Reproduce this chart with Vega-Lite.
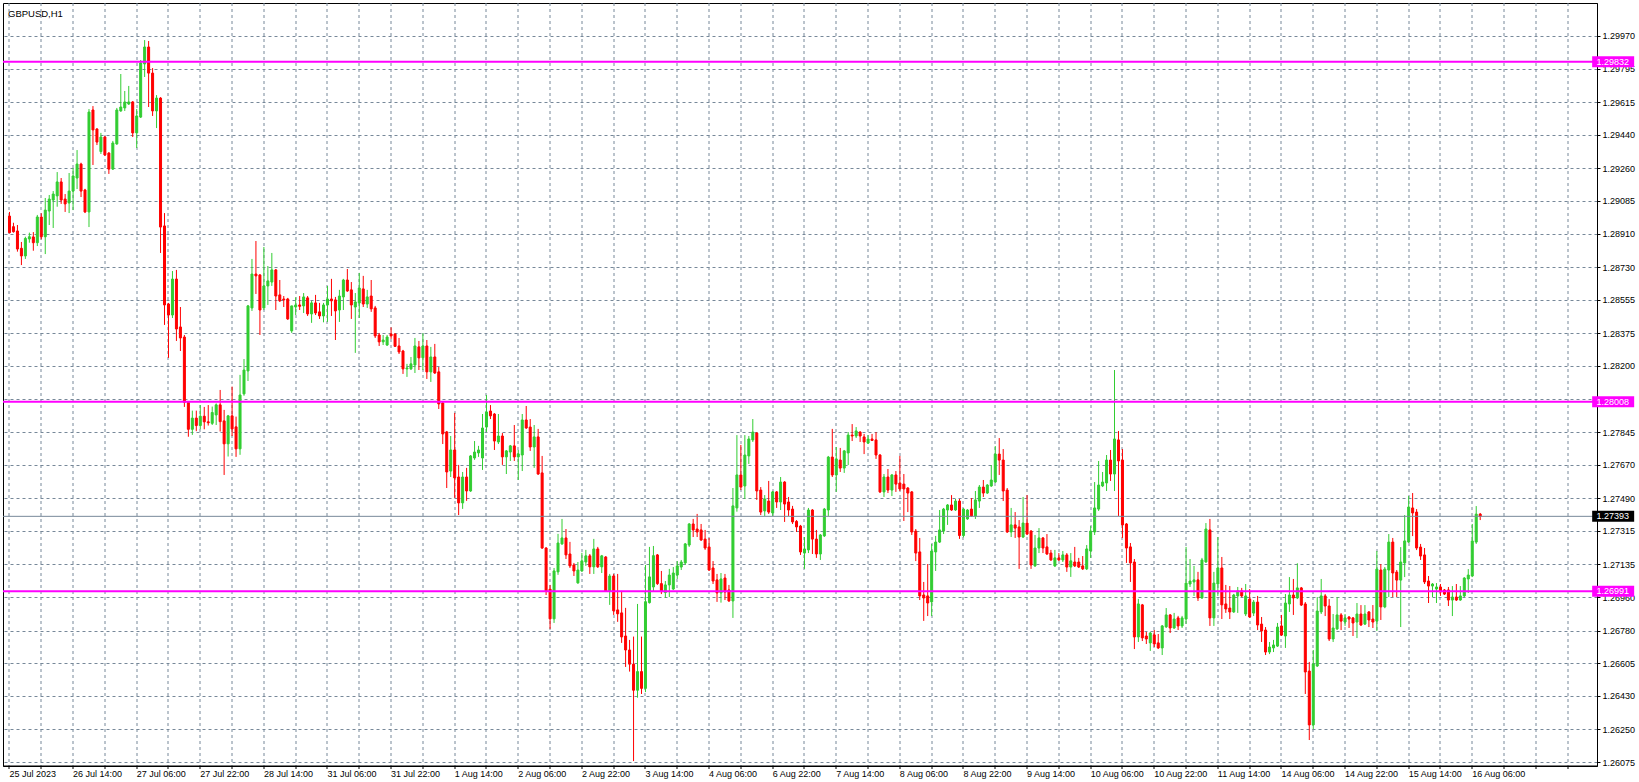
{
"$schema": "https://vega.github.io/schema/vega-lite/v6.json",
"width": 1594, "height": 763,
"autosize": {"type": "none"},
"padding": {"left": 3, "top": 3, "right": 42, "bottom": 16},
"background": "#ffffff",
"config": {"view": {"stroke": "#000000", "strokeWidth": 1}, "font": "Liberation Sans", "axis": {"labelOverlap": false}},
"title": {"text": "GBPUSD,H1", "anchor": "start", "frame": "group", "orient": "top", "offset": 0, "dx": 5, "dy": 23, "baseline": "alphabetic", "fontSize": 9.5, "fontWeight": "normal", "font": "Liberation Sans", "color": "#000000"},
"resolve": {"axis": {"x": "independent", "y": "independent"}},
"datasets": {
"candles": [
{"i":0,"o":1.29004,"h":1.29026,"l":1.28911,"c":1.28915},
{"i":1,"o":1.28947,"h":1.28968,"l":1.28915,"c":1.28920},
{"i":2,"o":1.28924,"h":1.28956,"l":1.28813,"c":1.28827},
{"i":3,"o":1.28831,"h":1.28865,"l":1.28741,"c":1.28790},
{"i":4,"o":1.28790,"h":1.28893,"l":1.28774,"c":1.28884},
{"i":5,"o":1.28881,"h":1.28915,"l":1.28861,"c":1.28893},
{"i":6,"o":1.28892,"h":1.28918,"l":1.28818,"c":1.28861},
{"i":7,"o":1.28861,"h":1.29010,"l":1.28843,"c":1.28999},
{"i":8,"o":1.28999,"h":1.29019,"l":1.28879,"c":1.28893},
{"i":9,"o":1.28893,"h":1.29101,"l":1.28800,"c":1.29036},
{"i":10,"o":1.29031,"h":1.29117,"l":1.28956,"c":1.29095},
{"i":11,"o":1.29090,"h":1.29138,"l":1.28940,"c":1.29122},
{"i":12,"o":1.29112,"h":1.29240,"l":1.29054,"c":1.29187},
{"i":13,"o":1.29187,"h":1.29208,"l":1.29069,"c":1.29090},
{"i":14,"o":1.29095,"h":1.29122,"l":1.29026,"c":1.29069},
{"i":15,"o":1.29074,"h":1.29235,"l":1.29020,"c":1.29138},
{"i":16,"o":1.29138,"h":1.29262,"l":1.29036,"c":1.29219},
{"i":17,"o":1.29208,"h":1.29358,"l":1.29149,"c":1.29283},
{"i":18,"o":1.29283,"h":1.29290,"l":1.29106,"c":1.29138},
{"i":19,"o":1.29144,"h":1.29150,"l":1.29020,"c":1.29026},
{"i":20,"o":1.29026,"h":1.29578,"l":1.28945,"c":1.29562},
{"i":21,"o":1.29573,"h":1.29594,"l":1.29278,"c":1.29466},
{"i":22,"o":1.29471,"h":1.29476,"l":1.29385,"c":1.29401},
{"i":23,"o":1.29350,"h":1.29450,"l":1.29337,"c":1.29428},
{"i":24,"o":1.29428,"h":1.29433,"l":1.29326,"c":1.29332},
{"i":25,"o":1.29342,"h":1.29347,"l":1.29230,"c":1.29256},
{"i":26,"o":1.29256,"h":1.29407,"l":1.29251,"c":1.29396},
{"i":27,"o":1.29391,"h":1.29584,"l":1.29386,"c":1.29573},
{"i":28,"o":1.29568,"h":1.29766,"l":1.29563,"c":1.29589},
{"i":29,"o":1.29584,"h":1.29675,"l":1.29568,"c":1.29616},
{"i":30,"o":1.29605,"h":1.29702,"l":1.29600,"c":1.29616},
{"i":31,"o":1.29616,"h":1.29621,"l":1.29428,"c":1.29450},
{"i":32,"o":1.29450,"h":1.29578,"l":1.29369,"c":1.29541},
{"i":33,"o":1.29535,"h":1.29841,"l":1.29530,"c":1.29825},
{"i":34,"o":1.29820,"h":1.29948,"l":1.29750,"c":1.29911},
{"i":35,"o":1.29911,"h":1.29943,"l":1.29589,"c":1.29771},
{"i":36,"o":1.29771,"h":1.29798,"l":1.29541,"c":1.29568},
{"i":37,"o":1.29568,"h":1.29653,"l":1.29476,"c":1.29637},
{"i":38,"o":1.29637,"h":1.29642,"l":1.28806,"c":1.28945},
{"i":39,"o":1.28951,"h":1.29020,"l":1.28420,"c":1.28527},
{"i":40,"o":1.28532,"h":1.28538,"l":1.28243,"c":1.28473},
{"i":41,"o":1.28473,"h":1.28709,"l":1.28457,"c":1.28666},
{"i":42,"o":1.28666,"h":1.28715,"l":1.28334,"c":1.28398},
{"i":43,"o":1.28409,"h":1.28516,"l":1.28280,"c":1.28350},
{"i":44,"o":1.28355,"h":1.28366,"l":1.27980,"c":1.28005},
{"i":45,"o":1.28005,"h":1.28010,"l":1.27820,"c":1.27860},
{"i":46,"o":1.27860,"h":1.27960,"l":1.27830,"c":1.27920},
{"i":47,"o":1.27920,"h":1.27960,"l":1.27850,"c":1.27880},
{"i":48,"o":1.27880,"h":1.27990,"l":1.27860,"c":1.27930},
{"i":49,"o":1.27930,"h":1.27980,"l":1.27860,"c":1.27900},
{"i":50,"o":1.27900,"h":1.27990,"l":1.27880,"c":1.27895},
{"i":51,"o":1.27892,"h":1.27982,"l":1.27883,"c":1.27950},
{"i":52,"o":1.27937,"h":1.27999,"l":1.27883,"c":1.27991},
{"i":53,"o":1.27991,"h":1.28071,"l":1.27848,"c":1.27901},
{"i":54,"o":1.27905,"h":1.27964,"l":1.27615,"c":1.27782},
{"i":55,"o":1.27782,"h":1.27937,"l":1.27714,"c":1.27932},
{"i":56,"o":1.27932,"h":1.28089,"l":1.27824,"c":1.27862},
{"i":57,"o":1.27873,"h":1.27928,"l":1.27712,"c":1.27755},
{"i":58,"o":1.27755,"h":1.28152,"l":1.27723,"c":1.28044},
{"i":59,"o":1.28050,"h":1.28237,"l":1.28040,"c":1.28178},
{"i":60,"o":1.28173,"h":1.28527,"l":1.28119,"c":1.28522},
{"i":61,"o":1.28511,"h":1.28774,"l":1.28495,"c":1.28693},
{"i":62,"o":1.28693,"h":1.28870,"l":1.28586,"c":1.28683},
{"i":63,"o":1.28688,"h":1.28693,"l":1.28366,"c":1.28500},
{"i":64,"o":1.28511,"h":1.28838,"l":1.28500,"c":1.28629},
{"i":65,"o":1.28629,"h":1.28736,"l":1.28527,"c":1.28656},
{"i":66,"o":1.28650,"h":1.28806,"l":1.28629,"c":1.28715},
{"i":67,"o":1.28715,"h":1.28720,"l":1.28500,"c":1.28575},
{"i":68,"o":1.28581,"h":1.28661,"l":1.28543,"c":1.28549},
{"i":69,"o":1.28559,"h":1.28575,"l":1.28516,"c":1.28554},
{"i":70,"o":1.28559,"h":1.28565,"l":1.28447,"c":1.28452},
{"i":71,"o":1.28388,"h":1.28522,"l":1.28377,"c":1.28522},
{"i":72,"o":1.28516,"h":1.28568,"l":1.28473,"c":1.28527},
{"i":73,"o":1.28527,"h":1.28575,"l":1.28500,"c":1.28520},
{"i":74,"o":1.28522,"h":1.28591,"l":1.28484,"c":1.28570},
{"i":75,"o":1.28565,"h":1.28575,"l":1.28468,"c":1.28479},
{"i":76,"o":1.28479,"h":1.28549,"l":1.28431,"c":1.28538},
{"i":77,"o":1.28538,"h":1.28581,"l":1.28473,"c":1.28484},
{"i":78,"o":1.28490,"h":1.28538,"l":1.28452,"c":1.28468},
{"i":79,"o":1.28468,"h":1.28538,"l":1.28434,"c":1.28527},
{"i":80,"o":1.28527,"h":1.28629,"l":1.28436,"c":1.28559},
{"i":81,"o":1.28559,"h":1.28667,"l":1.28468,"c":1.28549},
{"i":82,"o":1.28554,"h":1.28570,"l":1.28339,"c":1.28495},
{"i":83,"o":1.28500,"h":1.28608,"l":1.28436,"c":1.28575},
{"i":84,"o":1.28570,"h":1.28667,"l":1.28500,"c":1.28661},
{"i":85,"o":1.28661,"h":1.28720,"l":1.28597,"c":1.28602},
{"i":86,"o":1.28608,"h":1.28650,"l":1.28452,"c":1.28527},
{"i":87,"o":1.28516,"h":1.28591,"l":1.28270,"c":1.28543},
{"i":88,"o":1.28538,"h":1.28699,"l":1.28457,"c":1.28618},
{"i":89,"o":1.28613,"h":1.28683,"l":1.28516,"c":1.28532},
{"i":90,"o":1.28532,"h":1.28608,"l":1.28511,"c":1.28570},
{"i":91,"o":1.28575,"h":1.28661,"l":1.28490,"c":1.28506},
{"i":92,"o":1.28511,"h":1.28522,"l":1.28350,"c":1.28361},
{"i":93,"o":1.28366,"h":1.28377,"l":1.28307,"c":1.28329},
{"i":94,"o":1.28329,"h":1.28366,"l":1.28312,"c":1.28339},
{"i":95,"o":1.28312,"h":1.28366,"l":1.28307,"c":1.28355},
{"i":96,"o":1.28371,"h":1.28407,"l":1.28345,"c":1.28361},
{"i":97,"o":1.28371,"h":1.28375,"l":1.28302,"c":1.28305},
{"i":98,"o":1.28307,"h":1.28350,"l":1.28264,"c":1.28275},
{"i":99,"o":1.28280,"h":1.28286,"l":1.28157,"c":1.28184},
{"i":100,"o":1.28184,"h":1.28211,"l":1.28141,"c":1.28189},
{"i":101,"o":1.28184,"h":1.28248,"l":1.28178,"c":1.28211},
{"i":102,"o":1.28205,"h":1.28350,"l":1.28162,"c":1.28307},
{"i":103,"o":1.28302,"h":1.28334,"l":1.28178,"c":1.28243},
{"i":104,"o":1.28244,"h":1.28375,"l":1.28178,"c":1.28307},
{"i":105,"o":1.28307,"h":1.28339,"l":1.28130,"c":1.28168},
{"i":106,"o":1.28168,"h":1.28302,"l":1.28114,"c":1.28248},
{"i":107,"o":1.28248,"h":1.28318,"l":1.28157,"c":1.28162},
{"i":108,"o":1.28168,"h":1.28194,"l":1.27969,"c":1.27996},
{"i":109,"o":1.28001,"h":1.28006,"l":1.27781,"c":1.27835},
{"i":110,"o":1.27846,"h":1.27851,"l":1.27545,"c":1.27631},
{"i":111,"o":1.27636,"h":1.27824,"l":1.27604,"c":1.27749},
{"i":112,"o":1.27749,"h":1.27948,"l":1.27492,"c":1.27599},
{"i":113,"o":1.27604,"h":1.27669,"l":1.27400,"c":1.27465},
{"i":114,"o":1.27465,"h":1.27631,"l":1.27433,"c":1.27604},
{"i":115,"o":1.27604,"h":1.27653,"l":1.27476,"c":1.27529},
{"i":116,"o":1.27529,"h":1.27722,"l":1.27524,"c":1.27717},
{"i":117,"o":1.27706,"h":1.27797,"l":1.27696,"c":1.27738},
{"i":118,"o":1.27733,"h":1.27771,"l":1.27712,"c":1.27749},
{"i":119,"o":1.27706,"h":1.27942,"l":1.27642,"c":1.27867},
{"i":120,"o":1.27872,"h":1.28044,"l":1.27846,"c":1.27953},
{"i":121,"o":1.27958,"h":1.27990,"l":1.27915,"c":1.27932},
{"i":122,"o":1.27942,"h":1.27947,"l":1.27749,"c":1.27797},
{"i":123,"o":1.27792,"h":1.27942,"l":1.27781,"c":1.27824},
{"i":124,"o":1.27824,"h":1.27840,"l":1.27669,"c":1.27712},
{"i":125,"o":1.27712,"h":1.27749,"l":1.27620,"c":1.27744},
{"i":126,"o":1.27738,"h":1.27776,"l":1.27690,"c":1.27771},
{"i":127,"o":1.27771,"h":1.27883,"l":1.27690,"c":1.27712},
{"i":128,"o":1.27712,"h":1.27749,"l":1.27588,"c":1.27728},
{"i":129,"o":1.27722,"h":1.27942,"l":1.27636,"c":1.27910},
{"i":130,"o":1.27910,"h":1.27985,"l":1.27862,"c":1.27867},
{"i":131,"o":1.27872,"h":1.27915,"l":1.27744,"c":1.27765},
{"i":132,"o":1.27765,"h":1.27883,"l":1.27653,"c":1.27819},
{"i":133,"o":1.27819,"h":1.27862,"l":1.27615,"c":1.27620},
{"i":134,"o":1.27626,"h":1.27717,"l":1.27218,"c":1.27223},
{"i":135,"o":1.27223,"h":1.27228,"l":1.26971,"c":1.26993},
{"i":136,"o":1.27003,"h":1.27025,"l":1.26789,"c":1.26843},
{"i":137,"o":1.26843,"h":1.27116,"l":1.26821,"c":1.27100},
{"i":138,"o":1.27095,"h":1.27299,"l":1.27079,"c":1.27250},
{"i":139,"o":1.27245,"h":1.27379,"l":1.27240,"c":1.27277},
{"i":140,"o":1.27277,"h":1.27325,"l":1.27164,"c":1.27186},
{"i":141,"o":1.27191,"h":1.27256,"l":1.27116,"c":1.27127},
{"i":142,"o":1.27132,"h":1.27143,"l":1.27073,"c":1.27100},
{"i":143,"o":1.27036,"h":1.27148,"l":1.27031,"c":1.27105},
{"i":144,"o":1.27100,"h":1.27197,"l":1.27095,"c":1.27154},
{"i":145,"o":1.27148,"h":1.27213,"l":1.27127,"c":1.27181},
{"i":146,"o":1.27181,"h":1.27191,"l":1.27084,"c":1.27122},
{"i":147,"o":1.27122,"h":1.27272,"l":1.27084,"c":1.27218},
{"i":148,"o":1.27218,"h":1.27229,"l":1.27116,"c":1.27122},
{"i":149,"o":1.27122,"h":1.27186,"l":1.27089,"c":1.27181},
{"i":150,"o":1.27175,"h":1.27180,"l":1.26988,"c":1.26993},
{"i":151,"o":1.26993,"h":1.27084,"l":1.26918,"c":1.27073},
{"i":152,"o":1.27073,"h":1.27084,"l":1.26864,"c":1.26886},
{"i":153,"o":1.26891,"h":1.27084,"l":1.26827,"c":1.26870},
{"i":154,"o":1.26875,"h":1.26993,"l":1.26714,"c":1.26746},
{"i":155,"o":1.26751,"h":1.26902,"l":1.26585,"c":1.26676},
{"i":156,"o":1.26676,"h":1.26730,"l":1.26560,"c":1.26600},
{"i":157,"o":1.26600,"h":1.26748,"l":1.26080,"c":1.26460},
{"i":158,"o":1.26460,"h":1.26923,"l":1.26420,"c":1.26560},
{"i":159,"o":1.26560,"h":1.26748,"l":1.26440,"c":1.26470},
{"i":160,"o":1.26470,"h":1.27132,"l":1.26450,"c":1.26935},
{"i":161,"o":1.26930,"h":1.27229,"l":1.26925,"c":1.27068},
{"i":162,"o":1.27014,"h":1.27234,"l":1.26989,"c":1.27182},
{"i":163,"o":1.27186,"h":1.27191,"l":1.27025,"c":1.27032},
{"i":164,"o":1.27032,"h":1.27100,"l":1.26976,"c":1.26989},
{"i":165,"o":1.26984,"h":1.27046,"l":1.26955,"c":1.27025},
{"i":166,"o":1.27025,"h":1.27111,"l":1.26960,"c":1.27078},
{"i":167,"o":1.27003,"h":1.27121,"l":1.26998,"c":1.27089},
{"i":168,"o":1.27078,"h":1.27153,"l":1.27057,"c":1.27127},
{"i":169,"o":1.27121,"h":1.27159,"l":1.27105,"c":1.27148},
{"i":170,"o":1.27143,"h":1.27250,"l":1.27132,"c":1.27245},
{"i":171,"o":1.27239,"h":1.27357,"l":1.27229,"c":1.27352},
{"i":172,"o":1.27352,"h":1.27379,"l":1.27282,"c":1.27320},
{"i":173,"o":1.27325,"h":1.27406,"l":1.27282,"c":1.27309},
{"i":174,"o":1.27320,"h":1.27352,"l":1.27261,"c":1.27266},
{"i":175,"o":1.27271,"h":1.27320,"l":1.27213,"c":1.27223},
{"i":176,"o":1.27229,"h":1.27277,"l":1.27100,"c":1.27105},
{"i":177,"o":1.27116,"h":1.27153,"l":1.27030,"c":1.27046},
{"i":178,"o":1.27052,"h":1.27084,"l":1.26934,"c":1.26982},
{"i":179,"o":1.26982,"h":1.27089,"l":1.26930,"c":1.27057},
{"i":180,"o":1.27062,"h":1.27084,"l":1.26944,"c":1.26987},
{"i":181,"o":1.26998,"h":1.27025,"l":1.26934,"c":1.26939},
{"i":182,"o":1.26939,"h":1.27545,"l":1.26848,"c":1.27449},
{"i":183,"o":1.27438,"h":1.27829,"l":1.27418,"c":1.27615},
{"i":184,"o":1.27615,"h":1.27776,"l":1.27534,"c":1.27550},
{"i":185,"o":1.27556,"h":1.27829,"l":1.27486,"c":1.27722},
{"i":186,"o":1.27717,"h":1.27824,"l":1.27674,"c":1.27808},
{"i":187,"o":1.27803,"h":1.27915,"l":1.27792,"c":1.27845},
{"i":188,"o":1.27840,"h":1.27845,"l":1.27481,"c":1.27529},
{"i":189,"o":1.27534,"h":1.27550,"l":1.27400,"c":1.27416},
{"i":190,"o":1.27422,"h":1.27507,"l":1.27395,"c":1.27486},
{"i":191,"o":1.27475,"h":1.27583,"l":1.27406,"c":1.27416},
{"i":192,"o":1.27411,"h":1.27529,"l":1.27395,"c":1.27524},
{"i":193,"o":1.27524,"h":1.27529,"l":1.27438,"c":1.27470},
{"i":194,"o":1.27470,"h":1.27604,"l":1.27427,"c":1.27577},
{"i":195,"o":1.27577,"h":1.27582,"l":1.27363,"c":1.27459},
{"i":196,"o":1.27470,"h":1.27497,"l":1.27395,"c":1.27427},
{"i":197,"o":1.27432,"h":1.27449,"l":1.27352,"c":1.27363},
{"i":198,"o":1.27366,"h":1.27373,"l":1.27309,"c":1.27336},
{"i":199,"o":1.27341,"h":1.27347,"l":1.27186,"c":1.27202},
{"i":200,"o":1.27196,"h":1.27282,"l":1.27111,"c":1.27218},
{"i":201,"o":1.27213,"h":1.27438,"l":1.27196,"c":1.27427},
{"i":202,"o":1.27427,"h":1.27432,"l":1.27191,"c":1.27271},
{"i":203,"o":1.27271,"h":1.27320,"l":1.27170,"c":1.27191},
{"i":204,"o":1.27191,"h":1.27298,"l":1.27159,"c":1.27293},
{"i":205,"o":1.27288,"h":1.27438,"l":1.27282,"c":1.27432},
{"i":206,"o":1.27427,"h":1.27717,"l":1.27395,"c":1.27711},
{"i":207,"o":1.27711,"h":1.27862,"l":1.27604,"c":1.27615},
{"i":208,"o":1.27615,"h":1.27765,"l":1.27524,"c":1.27701},
{"i":209,"o":1.27695,"h":1.27760,"l":1.27631,"c":1.27652},
{"i":210,"o":1.27652,"h":1.27749,"l":1.27626,"c":1.27744},
{"i":211,"o":1.27733,"h":1.27845,"l":1.27668,"c":1.27829},
{"i":212,"o":1.27829,"h":1.27888,"l":1.27797,"c":1.27824},
{"i":213,"o":1.27824,"h":1.27872,"l":1.27813,"c":1.27851},
{"i":214,"o":1.27845,"h":1.27850,"l":1.27792,"c":1.27824},
{"i":215,"o":1.27819,"h":1.27835,"l":1.27727,"c":1.27792},
{"i":216,"o":1.27786,"h":1.27829,"l":1.27781,"c":1.27808},
{"i":217,"o":1.27808,"h":1.27835,"l":1.27797,"c":1.27800},
{"i":218,"o":1.27803,"h":1.27845,"l":1.27701,"c":1.27722},
{"i":219,"o":1.27722,"h":1.27727,"l":1.27518,"c":1.27524},
{"i":220,"o":1.27524,"h":1.27620,"l":1.27497,"c":1.27604},
{"i":221,"o":1.27604,"h":1.27647,"l":1.27518,"c":1.27534},
{"i":222,"o":1.27534,"h":1.27620,"l":1.27502,"c":1.27615},
{"i":223,"o":1.27615,"h":1.27636,"l":1.27524,"c":1.27566},
{"i":224,"o":1.27572,"h":1.27717,"l":1.27529,"c":1.27540},
{"i":225,"o":1.27566,"h":1.27620,"l":1.27368,"c":1.27540},
{"i":226,"o":1.27545,"h":1.27550,"l":1.27416,"c":1.27518},
{"i":227,"o":1.27524,"h":1.27529,"l":1.27293,"c":1.27309},
{"i":228,"o":1.27314,"h":1.27325,"l":1.27153,"c":1.27196},
{"i":229,"o":1.27202,"h":1.27277,"l":1.26944,"c":1.26966},
{"i":230,"o":1.26971,"h":1.27041,"l":1.26832,"c":1.26955},
{"i":231,"o":1.26966,"h":1.27137,"l":1.26858,"c":1.26928},
{"i":232,"o":1.26934,"h":1.27245,"l":1.26858,"c":1.27207},
{"i":233,"o":1.27202,"h":1.27288,"l":1.27100,"c":1.27255},
{"i":234,"o":1.27255,"h":1.27427,"l":1.27250,"c":1.27320},
{"i":235,"o":1.27314,"h":1.27438,"l":1.27298,"c":1.27432},
{"i":236,"o":1.27427,"h":1.27459,"l":1.27347,"c":1.27454},
{"i":237,"o":1.27454,"h":1.27507,"l":1.27422,"c":1.27427},
{"i":238,"o":1.27427,"h":1.27486,"l":1.27422,"c":1.27475},
{"i":239,"o":1.27475,"h":1.27486,"l":1.27272,"c":1.27290},
{"i":240,"o":1.27290,"h":1.27437,"l":1.27280,"c":1.27432},
{"i":241,"o":1.27379,"h":1.27432,"l":1.27374,"c":1.27427},
{"i":242,"o":1.27432,"h":1.27491,"l":1.27390,"c":1.27395},
{"i":243,"o":1.27395,"h":1.27529,"l":1.27379,"c":1.27481},
{"i":244,"o":1.27475,"h":1.27561,"l":1.27438,"c":1.27550},
{"i":245,"o":1.27550,"h":1.27588,"l":1.27497,"c":1.27518},
{"i":246,"o":1.27518,"h":1.27566,"l":1.27513,"c":1.27561},
{"i":247,"o":1.27556,"h":1.27668,"l":1.27551,"c":1.27588},
{"i":248,"o":1.27577,"h":1.27770,"l":1.27572,"c":1.27727},
{"i":249,"o":1.27727,"h":1.27813,"l":1.27615,"c":1.27695},
{"i":250,"o":1.27695,"h":1.27754,"l":1.27475,"c":1.27529},
{"i":251,"o":1.27534,"h":1.27545,"l":1.27304,"c":1.27309},
{"i":252,"o":1.27309,"h":1.27438,"l":1.27282,"c":1.27347},
{"i":253,"o":1.27347,"h":1.27416,"l":1.27277,"c":1.27330},
{"i":254,"o":1.27336,"h":1.27373,"l":1.27111,"c":1.27282},
{"i":255,"o":1.27282,"h":1.27497,"l":1.27277,"c":1.27357},
{"i":256,"o":1.27357,"h":1.27507,"l":1.27293,"c":1.27298},
{"i":257,"o":1.27314,"h":1.27319,"l":1.27111,"c":1.27132},
{"i":258,"o":1.27127,"h":1.27293,"l":1.27122,"c":1.27223},
{"i":259,"o":1.27223,"h":1.27330,"l":1.27196,"c":1.27277},
{"i":260,"o":1.27277,"h":1.27282,"l":1.27196,"c":1.27223},
{"i":261,"o":1.27229,"h":1.27298,"l":1.27186,"c":1.27191},
{"i":262,"o":1.27196,"h":1.27213,"l":1.27154,"c":1.27159},
{"i":263,"o":1.27127,"h":1.27213,"l":1.27121,"c":1.27170},
{"i":264,"o":1.27170,"h":1.27196,"l":1.27154,"c":1.27159},
{"i":265,"o":1.27159,"h":1.27207,"l":1.27148,"c":1.27186},
{"i":266,"o":1.27186,"h":1.27196,"l":1.27095,"c":1.27121},
{"i":267,"o":1.27121,"h":1.27196,"l":1.27068,"c":1.27154},
{"i":268,"o":1.27148,"h":1.27229,"l":1.27121,"c":1.27127},
{"i":269,"o":1.27148,"h":1.27170,"l":1.27116,"c":1.27121},
{"i":270,"o":1.27127,"h":1.27180,"l":1.27105,"c":1.27111},
{"i":271,"o":1.27111,"h":1.27239,"l":1.27105,"c":1.27218},
{"i":272,"o":1.27207,"h":1.27341,"l":1.27170,"c":1.27314},
{"i":273,"o":1.27309,"h":1.27577,"l":1.27293,"c":1.27438},
{"i":274,"o":1.27432,"h":1.27690,"l":1.27422,"c":1.27561},
{"i":275,"o":1.27556,"h":1.27631,"l":1.27550,"c":1.27577},
{"i":276,"o":1.27572,"h":1.27722,"l":1.27529,"c":1.27695},
{"i":277,"o":1.27695,"h":1.27749,"l":1.27583,"c":1.27620},
{"i":278,"o":1.27620,"h":1.28178,"l":1.27529,"c":1.27808},
{"i":279,"o":1.27803,"h":1.27851,"l":1.27395,"c":1.27690},
{"i":280,"o":1.27695,"h":1.27754,"l":1.27277,"c":1.27347},
{"i":281,"o":1.27352,"h":1.27357,"l":1.27143,"c":1.27223},
{"i":282,"o":1.27229,"h":1.27250,"l":1.27041,"c":1.27143},
{"i":283,"o":1.27148,"h":1.27164,"l":1.26681,"c":1.26746},
{"i":284,"o":1.26746,"h":1.26950,"l":1.26719,"c":1.26923},
{"i":285,"o":1.26918,"h":1.26923,"l":1.26724,"c":1.26741},
{"i":286,"o":1.26751,"h":1.26773,"l":1.26708,"c":1.26735},
{"i":287,"o":1.26714,"h":1.26773,"l":1.26671,"c":1.26767},
{"i":288,"o":1.26757,"h":1.26783,"l":1.26692,"c":1.26708},
{"i":289,"o":1.26714,"h":1.26762,"l":1.26681,"c":1.26687},
{"i":290,"o":1.26687,"h":1.26810,"l":1.26649,"c":1.26805},
{"i":291,"o":1.26800,"h":1.26901,"l":1.26794,"c":1.26864},
{"i":292,"o":1.26864,"h":1.26869,"l":1.26767,"c":1.26794},
{"i":293,"o":1.26794,"h":1.26875,"l":1.26789,"c":1.26842},
{"i":294,"o":1.26848,"h":1.26859,"l":1.26783,"c":1.26805},
{"i":295,"o":1.26805,"h":1.26859,"l":1.26794,"c":1.26848},
{"i":296,"o":1.26842,"h":1.27229,"l":1.26816,"c":1.27035},
{"i":297,"o":1.27030,"h":1.27164,"l":1.27014,"c":1.27046},
{"i":298,"o":1.27041,"h":1.27127,"l":1.26966,"c":1.27052},
{"i":299,"o":1.27052,"h":1.27095,"l":1.26939,"c":1.26955},
{"i":300,"o":1.26955,"h":1.27170,"l":1.26950,"c":1.27159},
{"i":301,"o":1.27148,"h":1.27357,"l":1.27143,"c":1.27325},
{"i":302,"o":1.27320,"h":1.27379,"l":1.26805,"c":1.26848},
{"i":303,"o":1.26848,"h":1.27095,"l":1.26805,"c":1.27035},
{"i":304,"o":1.27030,"h":1.27282,"l":1.26966,"c":1.27116},
{"i":305,"o":1.27116,"h":1.27175,"l":1.26842,"c":1.26918},
{"i":306,"o":1.26923,"h":1.27025,"l":1.26875,"c":1.26896},
{"i":307,"o":1.26901,"h":1.27019,"l":1.26842,"c":1.26880},
{"i":308,"o":1.26880,"h":1.26977,"l":1.26875,"c":1.26971},
{"i":309,"o":1.26966,"h":1.27014,"l":1.26875,"c":1.26993},
{"i":310,"o":1.26993,"h":1.27009,"l":1.26960,"c":1.26966},
{"i":311,"o":1.26869,"h":1.27030,"l":1.26858,"c":1.26966},
{"i":312,"o":1.26949,"h":1.27003,"l":1.26848,"c":1.26853},
{"i":313,"o":1.26874,"h":1.26944,"l":1.26858,"c":1.26933},
{"i":314,"o":1.26933,"h":1.26966,"l":1.26783,"c":1.26810},
{"i":315,"o":1.26815,"h":1.26853,"l":1.26719,"c":1.26778},
{"i":316,"o":1.26783,"h":1.26799,"l":1.26649,"c":1.26665},
{"i":317,"o":1.26665,"h":1.26719,"l":1.26654,"c":1.26692},
{"i":318,"o":1.26687,"h":1.26730,"l":1.26665,"c":1.26703},
{"i":319,"o":1.26697,"h":1.26821,"l":1.26692,"c":1.26799},
{"i":320,"o":1.26805,"h":1.26864,"l":1.26751,"c":1.26756},
{"i":321,"o":1.26751,"h":1.26976,"l":1.26687,"c":1.26928},
{"i":322,"o":1.26923,"h":1.27067,"l":1.26880,"c":1.26971},
{"i":323,"o":1.26971,"h":1.27057,"l":1.26864,"c":1.26955},
{"i":324,"o":1.26955,"h":1.27141,"l":1.26949,"c":1.27009},
{"i":325,"o":1.27009,"h":1.27014,"l":1.26912,"c":1.26917},
{"i":326,"o":1.26923,"h":1.26933,"l":1.26440,"c":1.26558},
{"i":327,"o":1.26563,"h":1.26612,"l":1.26193,"c":1.26274},
{"i":328,"o":1.26274,"h":1.26676,"l":1.26252,"c":1.26601},
{"i":329,"o":1.26590,"h":1.26960,"l":1.26585,"c":1.26885},
{"i":330,"o":1.26880,"h":1.27057,"l":1.26869,"c":1.26966},
{"i":331,"o":1.26966,"h":1.26976,"l":1.26858,"c":1.26912},
{"i":332,"o":1.26912,"h":1.26949,"l":1.26724,"c":1.26735},
{"i":333,"o":1.26735,"h":1.26869,"l":1.26719,"c":1.26794},
{"i":334,"o":1.26789,"h":1.26960,"l":1.26783,"c":1.26864},
{"i":335,"o":1.26864,"h":1.26874,"l":1.26783,"c":1.26831},
{"i":336,"o":1.26826,"h":1.26869,"l":1.26805,"c":1.26848},
{"i":337,"o":1.26853,"h":1.26858,"l":1.26794,"c":1.26842},
{"i":338,"o":1.26848,"h":1.26853,"l":1.26751,"c":1.26821},
{"i":339,"o":1.26826,"h":1.26928,"l":1.26740,"c":1.26869},
{"i":340,"o":1.26869,"h":1.26917,"l":1.26805,"c":1.26810},
{"i":341,"o":1.26815,"h":1.26917,"l":1.26810,"c":1.26869},
{"i":342,"o":1.26880,"h":1.26885,"l":1.26799,"c":1.26837},
{"i":343,"o":1.26842,"h":1.26917,"l":1.26794,"c":1.26826},
{"i":344,"o":1.26831,"h":1.27207,"l":1.26778,"c":1.27110},
{"i":345,"o":1.27105,"h":1.27137,"l":1.26837,"c":1.26907},
{"i":346,"o":1.26907,"h":1.27121,"l":1.26900,"c":1.27110},
{"i":347,"o":1.27105,"h":1.27298,"l":1.26960,"c":1.27255},
{"i":348,"o":1.27255,"h":1.27277,"l":1.26960,"c":1.27089},
{"i":349,"o":1.27094,"h":1.27105,"l":1.26960,"c":1.27051},
{"i":350,"o":1.27051,"h":1.27228,"l":1.26799,"c":1.27148},
{"i":351,"o":1.27143,"h":1.27400,"l":1.27067,"c":1.27261},
{"i":352,"o":1.27255,"h":1.27502,"l":1.27250,"c":1.27443},
{"i":353,"o":1.27438,"h":1.27518,"l":1.27287,"c":1.27411},
{"i":354,"o":1.27416,"h":1.27432,"l":1.27212,"c":1.27223},
{"i":355,"o":1.27228,"h":1.27245,"l":1.27159,"c":1.27180},
{"i":356,"o":1.27186,"h":1.27223,"l":1.27030,"c":1.27041},
{"i":357,"o":1.27046,"h":1.27073,"l":1.26928,"c":1.27019},
{"i":358,"o":1.27019,"h":1.27035,"l":1.26960,"c":1.27030},
{"i":359,"o":1.27003,"h":1.27035,"l":1.26928,"c":1.27014},
{"i":360,"o":1.27014,"h":1.27030,"l":1.26966,"c":1.26987},
{"i":361,"o":1.26998,"h":1.27003,"l":1.26971,"c":1.26976},
{"i":362,"o":1.26998,"h":1.27014,"l":1.26912,"c":1.26944},
{"i":363,"o":1.26944,"h":1.27019,"l":1.26858,"c":1.26960},
{"i":364,"o":1.26960,"h":1.27030,"l":1.26939,"c":1.26944},
{"i":365,"o":1.26944,"h":1.27019,"l":1.26940,"c":1.26966},
{"i":366,"o":1.26966,"h":1.27067,"l":1.26960,"c":1.27062},
{"i":367,"o":1.27057,"h":1.27110,"l":1.26982,"c":1.27078},
{"i":368,"o":1.27073,"h":1.27352,"l":1.27067,"c":1.27261},
{"i":369,"o":1.27255,"h":1.27448,"l":1.27245,"c":1.27405},
{"i":370,"o":1.27405,"h":1.27411,"l":1.27373,"c":1.27393}
],
"levels": [{"v":1.29832},{"v":1.28008},{"v":1.26991}],
"last": [{"v":1.27393}]
},
"layer": [
{"data": {"name": "candles"},
 "mark": {"type": "rule", "strokeWidth": 1},
 "encoding": {
  "x": {"field": "i", "type": "quantitative", "scale": {"domain": [-0.375, 398.125], "nice": false, "zero": false},
    "axis": {"orient": "bottom", "title": null, "values": [0,8,16,24,32,40,48,56,64,72,80,88,96,104,112,120,128,136,144,152,160,168,176,184,192,200,208,216,224,232,240,248,256,264,272,280,288,296,304,312,320,328,336,344,352,360,368,376,384,392],
      "labelExpr": "(datum.value % 16 == 0 && datum.value <= 368) ? ['25 Jul 2023','26 Jul 14:00','27 Jul 06:00','27 Jul 22:00','28 Jul 14:00','31 Jul 06:00','31 Jul 22:00','1 Aug 14:00','2 Aug 06:00','2 Aug 22:00','3 Aug 14:00','4 Aug 06:00','6 Aug 22:00','7 Aug 14:00','8 Aug 06:00','8 Aug 22:00','9 Aug 14:00','10 Aug 06:00','10 Aug 22:00','11 Aug 14:00','14 Aug 06:00','14 Aug 22:00','15 Aug 14:00','16 Aug 06:00'][datum.value / 16] : ''",
      "labelAlign": "left", "labelBaseline": "top", "labelPadding": 1, "labelFlush": false, "labelOverlap": false, "labelBound": false,
      "labelFont": "Liberation Sans", "labelFontSize": 9, "labelColor": "#000000",
      "tickSize": 3, "tickColor": "#000000", "domainColor": "#000000", "domainWidth": 1,
      "grid": true, "gridColor": "#778899", "gridDash": [3, 3], "gridWidth": 1, "translate": 0}},
  "y": {"field": "l", "type": "quantitative", "scale": {"domain": [1.260536, 1.30147], "nice": false, "zero": false},
    "axis": {"orient": "right", "title": null, "values": [1.26075,1.2625,1.2643,1.26605,1.2678,1.2696,1.27135,1.27315,1.2749,1.2767,1.27845,1.28025,1.282,1.28375,1.28555,1.2873,1.2891,1.29085,1.2926,1.2944,1.29615,1.29795,1.2997],
      "format": ".5f", "labelExpr": "abs(datum.value - 1.28025) < 0.000001 ? '' : datum.label",
      "labelAlign": "left", "labelBaseline": "middle", "labelPadding": 2, "labelFlush": false, "labelOverlap": false, "labelBound": false,
      "labelFont": "Liberation Sans", "labelFontSize": 9, "labelColor": "#000000",
      "tickSize": 3, "tickColor": "#000000", "domainColor": "#000000", "domainWidth": 1,
      "grid": true, "gridColor": "#778899", "gridDash": [3, 3], "gridWidth": 1}},
  "y2": {"field": "h"},
  "color": {"condition": {"test": "datum.c >= datum.o", "value": "#32CD32"}, "value": "#FF0000"}
 }},
{"data": {"name": "candles"},
 "mark": {"type": "bar", "width": 2, "strokeWidth": 1},
 "encoding": {
  "x": {"field": "i", "type": "quantitative", "scale": {"domain": [-0.375, 398.125], "nice": false, "zero": false}, "axis": null},
  "y": {"field": "o", "type": "quantitative", "scale": {"domain": [1.260536, 1.30147], "nice": false, "zero": false}, "axis": null},
  "y2": {"field": "c"},
  "fill": {"condition": {"test": "datum.c >= datum.o", "value": "#32CD32"}, "value": "#FF0000"},
  "stroke": {"condition": {"test": "datum.c >= datum.o", "value": "#32CD32"}, "value": "#FF0000"}
 }},
{"data": {"name": "levels"},
 "mark": {"type": "rule", "color": "#FF00FF", "strokeWidth": 2},
 "encoding": {"y": {"field": "v", "type": "quantitative", "scale": {"domain": [1.260536, 1.30147], "nice": false, "zero": false}, "axis": null}}},
{"data": {"name": "last"},
 "mark": {"type": "rule", "color": "#778899", "strokeWidth": 1},
 "encoding": {"y": {"field": "v", "type": "quantitative", "scale": {"domain": [1.260536, 1.30147], "nice": false, "zero": false}, "axis": null}}},
{"data": {"name": "levels"},
 "mark": {"type": "tick", "orient": "horizontal", "size": 42, "thickness": 11, "color": "#FF00FF", "opacity": 1, "clip": false},
 "encoding": {
  "x": {"datum": 403.45, "type": "quantitative", "scale": {"domain": [-0.375, 398.125], "nice": false, "zero": false}, "axis": null},
  "y": {"field": "v", "type": "quantitative", "scale": {"domain": [1.260536, 1.30147], "nice": false, "zero": false}, "axis": null}}},
{"data": {"name": "last"},
 "mark": {"type": "tick", "orient": "horizontal", "size": 42, "thickness": 11, "color": "#000000", "opacity": 1, "clip": false},
 "encoding": {
  "x": {"datum": 403.45, "type": "quantitative", "scale": {"domain": [-0.375, 398.125], "nice": false, "zero": false}, "axis": null},
  "y": {"field": "v", "type": "quantitative", "scale": {"domain": [1.260536, 1.30147], "nice": false, "zero": false}, "axis": null}}},
{"data": {"name": "levels"},
 "mark": {"type": "text", "align": "left", "baseline": "middle", "color": "#FFFFFF", "fontSize": 9, "font": "Liberation Sans", "clip": false},
 "encoding": {
  "x": {"datum": 399.25, "type": "quantitative", "scale": {"domain": [-0.375, 398.125], "nice": false, "zero": false}, "axis": null},
  "y": {"field": "v", "type": "quantitative", "scale": {"domain": [1.260536, 1.30147], "nice": false, "zero": false}, "axis": null},
  "text": {"field": "v", "type": "quantitative", "format": ".5f"}}},
{"data": {"name": "last"},
 "mark": {"type": "text", "align": "left", "baseline": "middle", "color": "#FFFFFF", "fontSize": 9, "font": "Liberation Sans", "clip": false},
 "encoding": {
  "x": {"datum": 399.25, "type": "quantitative", "scale": {"domain": [-0.375, 398.125], "nice": false, "zero": false}, "axis": null},
  "y": {"field": "v", "type": "quantitative", "scale": {"domain": [1.260536, 1.30147], "nice": false, "zero": false}, "axis": null},
  "text": {"field": "v", "type": "quantitative", "format": ".5f"}}}
]
}
